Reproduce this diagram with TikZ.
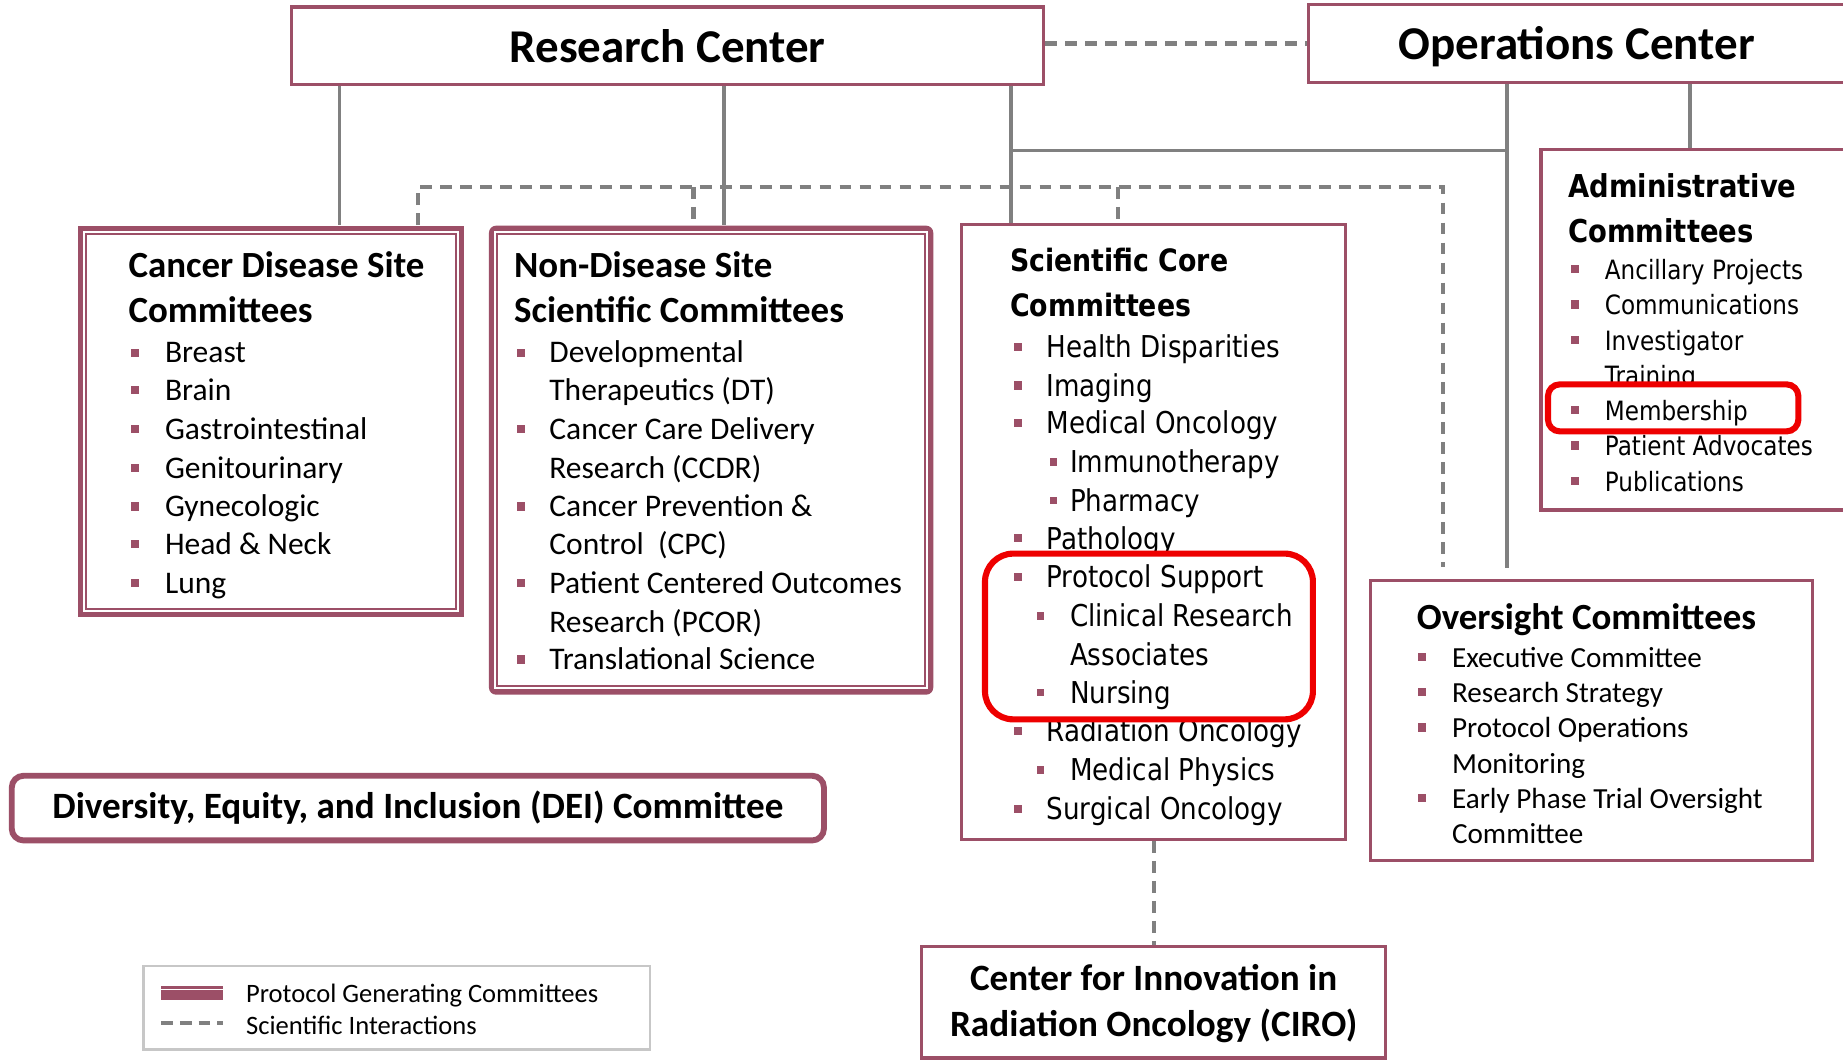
\documentclass[tikz,border=0pt]{standalone}
\usepackage{fontspec}
\setmainfont{Carlito}
\newfontfamily\tah[FakeStretch=0.87]{DejaVu Sans}
\usetikzlibrary{fit,calc}
\definecolor{maroon}{RGB}{156,79,103}
\definecolor{lgray}{RGB}{128,128,128}
\definecolor{redhl}{RGB}{238,0,0}
\tikzset{
  conn/.style={draw=lgray, line width=1.5pt},
  sci/.style={draw=lgray, line width=1.75pt, dash pattern=on 5pt off 3.5pt},
  box/.style={draw=maroon, line width=1.4pt, fill=white, inner sep=0pt},
  pgbox/.style={fill=maroon, inner sep=0pt},
  hl/.style={draw=redhl, line width=2.6pt, fill=white},
  bsq/.style={fill=maroon, minimum size=3.5pt, inner sep=0pt},
  sbsq/.style={fill=maroon, minimum size=3.1pt, inner sep=0pt},
  bigtxt/.style={anchor=center, inner sep=0pt, align=center, font=\bfseries\fontsize{20}{24}\selectfont},
  midtxt/.style={anchor=center, inner sep=0pt, align=center, font=\bfseries\fontsize{15.8}{19}\selectfont},
  itA/.style={anchor=mid west, inner sep=0pt, yshift=-2pt, font=\fontsize{13.4}{16}\selectfont},
  ttA/.style={anchor=mid west, inner sep=0pt, yshift=-2.8pt, font=\bfseries\fontsize{15.7}{19}\selectfont},
  itO/.style={anchor=mid west, inner sep=0pt, yshift=-2pt, font=\fontsize{12.4}{15}\selectfont},
  itS/.style={anchor=mid west, inner sep=0pt, yshift=-2.2pt, font=\tah\fontsize{12.8}{15}\selectfont},
  ttS/.style={anchor=mid west, inner sep=0pt, yshift=-2.6pt, font=\tah\bfseries\fontsize{13.1}{16}\selectfont},
  itD/.style={anchor=mid west, inner sep=0pt, yshift=-2pt, font=\tah\fontsize{11.3}{14}\selectfont},
  ttD/.style={anchor=mid west, inner sep=0pt, yshift=-2.6pt, font=\tah\bfseries\fontsize{13.4}{16}\selectfont},
  itL/.style={anchor=mid west, inner sep=0pt, yshift=-1.5pt, font=\fontsize{11.3}{14}\selectfont},
}
\newcommand\itm[6]{\node[bsq] (#2b) at (#3,#5) {};\node[#1] (#2) at (#4,#5) {#6};}
\newcommand\sitm[6]{\node[sbsq] (#2b) at (#3,#5) {};\node[#1] (#2) at (#4,#5) {#6};}
\begin{document}
\begin{tikzpicture}[x=0.5pt,y=-0.5pt]
\useasboundingbox (0,0) rectangle (1568,902);
\fill[white] (0,0) rectangle (1568,902);

% ---------- boxes
\node[box, fit={(248,6)(888,72)}] (rc) {};
\node[bigtxt] (rct) at (rc.center) {Research Center};
\node[box, fit={(1113,4)(1572,70)}] (oc) {};
\node[bigtxt, yshift=-1.4pt] (oct) at ([xshift=-0.5pt]oc.center) {Operations Center};

\node[pgbox, fit={(66,192)(395,525)}] (cds) {};
\fill[white] ([shift={(5,5)}]cds.north west) rectangle ([shift={(-5,-5)}]cds.south east);
\draw[maroon, line width=0.8pt] ([shift={(7.5,7.5)}]cds.north west) rectangle ([shift={(-7.5,-7.5)}]cds.south east);

\node[pgbox, rounded corners=3pt, fit={(416,192)(794,591)}] (nds) {};
\fill[white] ([shift={(5,5)}]nds.north west) rectangle ([shift={(-5,-5)}]nds.south east);
\draw[maroon, line width=0.8pt] ([shift={(7.5,7.5)}]nds.north west) rectangle ([shift={(-7.5,-7.5)}]nds.south east);

\node[box, fit={(818,191)(1145,714)}] (scc) {};
\node[box, fit={(1311,127)(1580,434)}] (adm) {};
\node[box, fit={(1166,494)(1542,732)}] (ovs) {};
\node[box, line width=2.5pt, rounded corners=5pt, fit={(10,660)(701,715)}] (dei) {};
\node[midtxt] (deit) at (dei.center) {Diversity, Equity, and Inclusion (DEI) Committee};
\node[box, fit={(784,805)(1179,900)}] (ciro) {};
\node[midtxt, yshift=-0.8pt] (cirot) at (ciro.center) {Center for Innovation in\\[0.5pt]Radiation Oncology (CIRO)};
\node[draw=black!22, line width=1pt, inner sep=0pt, fit={(122,822)(553,893)}] (leg) {};

% ---------- connectors
\draw[conn] (rc.south -| 289,0) -- (cds.north -| 289,0);
\draw[conn] (rc.south -| 616,0) -- (nds.north -| 616,0);
\draw[conn] (rc.south -| 860,0) -- (scc.north -| 860,0);
\coordinate (j1) at (860,128);
\coordinate (j2) at (1282,128);
\draw[conn] (j1) -- (j2);
\coordinate (ovsend) at (1282,483);
\draw[conn] (oc.south -| 1282,0) -- (ovsend);
\draw[conn] (oc.south -| 1438,0) -- (adm.north -| 1438,0);

\draw[sci] (rc.east |- oc.west) -- (oc.west);
\coordinate (d1) at (356,159);
\coordinate (d2) at (590,159);
\coordinate (d3) at (951,159);
\coordinate (d4) at (1228,159);
\coordinate (d5) at (1228,482);
\draw[sci] (cds.north -| d1) -- (d1) -- (d4) -- (d5);
\draw[sci] (d2) -- (nds.north -| d2);
\draw[sci] (d3) -- (scc.north -| d3);
\draw[sci] (scc.south) -- (ciro.north);

% ---------- Cancer Disease Site
\node[ttA] (cdst1) at (109,226) {Cancer Disease Site};
\node[ttA] (cdst2) at (109,264) {Committees};
\itm{itA}{c1}{115}{140}{300}{Breast}
\itm{itA}{c2}{115}{140}{332}{Brain}
\itm{itA}{c3}{115}{140}{365}{Gastrointestinal}
\itm{itA}{c4}{115}{140}{398}{Genitourinary}
\itm{itA}{c5}{115}{140}{431}{Gynecologic}
\itm{itA}{c6}{115}{140}{463}{Head \& Neck}
\itm{itA}{c7}{115}{140}{496}{Lung}

% ---------- Non-Disease Site
\node[ttA] (ndst1) at (437,226) {Non-Disease Site};
\node[ttA] (ndst2) at (437,264) {Scientific Committees};
\itm{itA}{n1}{443}{467}{300}{Developmental}
\node[itA] (n1c) at (467,332) {Therapeutics (DT)};
\itm{itA}{n2}{443}{467}{365}{Cancer Care Delivery}
\node[itA] (n2c) at (467,398) {Research (CCDR)};
\itm{itA}{n3}{443}{467}{431}{Cancer Prevention \&}
\node[itA] (n3c) at (467,463) {Control\ \ (CPC)};
\itm{itA}{n4}{443}{467}{496}{Patient Centered Outcomes}
\node[itA] (n4c) at (467,529) {Research (PCOR)};
\itm{itA}{n5}{443}{467}{561}{Translational Science}

% ---------- Scientific Core
\node[ttS] (scct1) at (859,221) {Scientific Core};
\node[ttS] (scct2) at (859,259) {Committees};
\itm{itS}{s1}{866}{890}{295}{Health Disparities}
\itm{itS}{s2}{866}{890}{328}{Imaging}
\itm{itS}{s3}{866}{890}{360}{Medical Oncology}
\sitm{itS}{s3a}{896}{910}{393}{Immunotherapy}
\sitm{itS}{s3b}{896}{910}{426}{Pharmacy}
\itm{itS}{s4}{866}{890}{458}{Pathology}
\itm{itS}{s6}{866}{890}{622}{Radiation Oncology}
\sitm{itS}{s6a}{885}{910}{655}{Medical Physics}
\itm{itS}{s7}{866}{890}{688}{Surgical Oncology}
\coordinate (ps1) at (838,471);
\coordinate (ps2) at (1117,612);
\draw[hl, rounded corners=12pt] (ps1) rectangle (ps2);
\itm{itS}{s5}{866}{890}{491}{Protocol Support}
\sitm{itS}{s5a}{885}{910}{524}{Clinical Research}
\node[itS] (s5ac) at (910,557) {Associates};
\sitm{itS}{s5b}{885}{910}{589}{Nursing}

% ---------- Administrative
\node[ttD] (admt1) at (1334,158) {Administrative};
\node[ttD] (admt2) at (1334,196) {Committees};
\itm{itD}{a1}{1340}{1365}{229}{Ancillary Projects}
\itm{itD}{a2}{1340}{1365}{259}{Communications}
\itm{itD}{a3}{1340}{1365}{289}{Investigator}
\node[itD] (a3c) at (1365,319) {Training};
\itm{itD}{a5}{1340}{1365}{379}{Patient Advocates}
\itm{itD}{a6}{1340}{1365}{409}{Publications}
\coordinate (m1) at (1317,327);
\coordinate (m2) at (1530,367);
\draw[hl, rounded corners=5pt] (m1) rectangle (m2);
\itm{itD}{a4}{1340}{1365}{349}{Membership}

% ---------- Oversight
\node[ttA] (ovst) at (1205,525) {Oversight Committees};
\itm{itO}{o1}{1210}{1235}{559}{Executive Committee}
\itm{itO}{o2}{1210}{1235}{589}{Research Strategy}
\itm{itO}{o3}{1210}{1235}{619}{Protocol Operations}
\node[itO] (o3c) at (1235,649) {Monitoring};
\itm{itO}{o4}{1210}{1235}{679}{Early Phase Trial Oversight}
\node[itO] (o4c) at (1235,709) {Committee};

% ---------- Legend
\node[pgbox, fit={(137,839)(190,851)}] (lg1) {};
\draw[white, line width=0.5pt] ([yshift=-1.6pt]lg1.north west) -- ([yshift=-1.6pt]lg1.north east);
\node[itL] (lg1t) at (209,845) {Protocol Generating Committees};
\coordinate (lg2a) at (137,870);
\coordinate (lg2b) at (190,870);
\draw[sci, dash pattern=on 5pt off 3pt] (lg2a) -- (lg2b);
\node[itL] (lg2t) at (209,872) {Scientific Interactions};
\end{tikzpicture}
\end{document}
